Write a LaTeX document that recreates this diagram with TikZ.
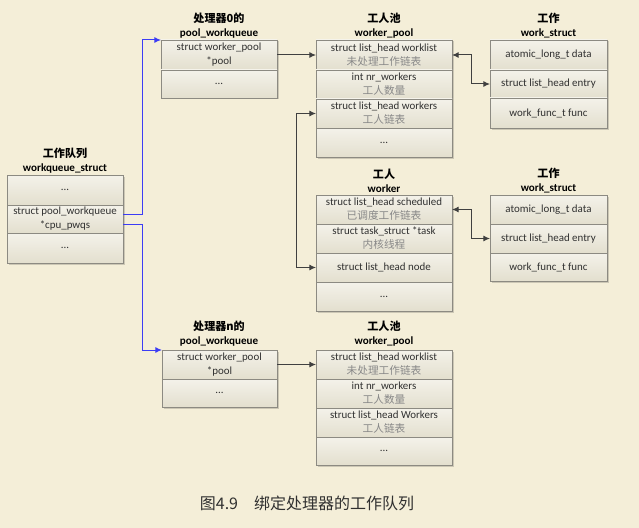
\documentclass[tikz,border=0pt]{standalone}
\usepackage{fontspec}
\setmainfont{Carlito}
\newfontfamily\cjk{Noto Sans CJK SC}
\usetikzlibrary{calc,arrows.meta}
\definecolor{bg}{HTML}{F4EED8}
\definecolor{celltop}{HTML}{F4F2EA}
\definecolor{cellbot}{HTML}{E3DFCE}
\definecolor{cellborder}{HTML}{8C8A82}
\definecolor{txt}{HTML}{303030}
\definecolor{subtxt}{HTML}{888888}
\definecolor{arr}{HTML}{404040}
\definecolor{bl}{HTML}{3C3CF5}
\newcommand\cellbox[6]{\node[cell, minimum width={(#4-#2)*0.75pt}, minimum height={(#5-#3)*0.75pt}] (#1) at ({(#2+#4)/2},{(#3+#5)/2}) {#6};}
\newcommand\shadowbox[4]{\fill[black, opacity=0.16] ({#1+1.5},{#2+1.5}) rectangle ({#3+1.5},{#4+1.5});}
\newcommand\zh[1]{{\cjk\color{subtxt}\fontsize{8}{10.5}\selectfont #1}}
\tikzset{
  cell/.style={draw=cellborder, line width=0.6pt, top color=celltop, bottom color=cellbot,
    inner sep=0pt, outer sep=0pt, align=center, text=txt, font=\fontsize{8.2}{10.5}\selectfont},
  boxtitle/.style={align=center, text=black, inner sep=0pt, font=\bfseries\fontsize{8.3}{10.5}\selectfont},
  conn/.style={draw=arr, line width=0.75pt, -{Latex[length=5pt,width=4.5pt]}},
  dconn/.style={draw=arr, line width=0.75pt, {Latex[length=5pt,width=4.5pt]}-{Latex[length=5pt,width=4.5pt]}},
  blueconn/.style={draw=bl, line width=0.75pt, -{Latex[length=5pt,width=4.5pt]}}
}
\begin{document}
\begin{tikzpicture}[x=0.75pt,y=-0.75pt]
\useasboundingbox (0,0) rectangle (639,528);
\fill[bg] (0,0) rectangle (639,528);
% shadows
\shadowbox{7}{175}{123}{263}
\shadowbox{161}{40}{277}{98}
\shadowbox{316}{40}{452}{157}
\shadowbox{490}{40}{607}{128}
\shadowbox{316}{195}{452}{311}
\shadowbox{490}{195}{607}{281}
\shadowbox{162}{350}{277}{407}
\shadowbox{316}{350}{452}{465}
% workqueue_struct
\node[boxtitle] (t1) at (65,160.5) {{\cjk 工作队列}\\workqueue\_struct};
\cellbox{wqa}{7}{175}{123}{205}{...}
\cellbox{wqb}{7}{205}{123}{233}{struct pool\_workqueue\\*cpu\_pwqs}
\cellbox{wqc}{7}{233}{123}{263}{...}
% pool_workqueue 0
\node[boxtitle] (t2) at (219,26) {{\cjk 处理器0的}\\pool\_workqueue};
\cellbox{pa}{161}{40}{277}{70}{struct worker\_pool\\*pool}
\cellbox{pb}{161}{70}{277}{98}{...}
% worker_pool
\node[boxtitle] (t3) at (384,26) {{\cjk 工人池}\\worker\_pool};
\cellbox{poola}{316}{40}{452}{70}{struct list\_head worklist\\\zh{未处理工作链表}}
\cellbox{poolb}{316}{70}{452}{99}{int nr\_workers\\\zh{工人数量}}
\cellbox{poolc}{316}{99}{452}{128}{struct list\_head workers\\\zh{工人链表}}
\cellbox{poold}{316}{128}{452}{157}{...}
% work_struct 1
\node[boxtitle] (t4) at (548.5,26) {{\cjk 工作}\\work\_struct};
\cellbox{wsa}{490}{40}{607}{70}{atomic\_long\_t data}
\cellbox{wsb}{490}{70}{607}{98}{struct list\_head entry}
\cellbox{wsc}{490}{98}{607}{128}{work\_func\_t func}
% worker
\node[boxtitle] (t5) at (384,181) {{\cjk 工人}\\worker};
\cellbox{wka}{316}{195}{452}{224}{struct list\_head scheduled\\\zh{已调度工作链表}}
\cellbox{wkb}{316}{224}{452}{253}{struct task\_struct *task\\\zh{内核线程}}
\cellbox{wkc}{316}{253}{452}{282}{struct list\_head node}
\cellbox{wkd}{316}{282}{452}{311}{...}
% work_struct 2
\node[boxtitle] (t6) at (548.5,181) {{\cjk 工作}\\work\_struct};
\cellbox{wsba}{490}{195}{607}{224}{atomic\_long\_t data}
\cellbox{wsbb}{490}{224}{607}{253}{struct list\_head entry}
\cellbox{wsbc}{490}{253}{607}{281}{work\_func\_t func}
% pool_workqueue n
\node[boxtitle] (t7) at (219,334) {{\cjk 处理器n的}\\pool\_workqueue};
\cellbox{pna}{162}{350}{277}{379}{struct worker\_pool\\*pool}
\cellbox{pnb}{162}{379}{277}{407}{...}
% worker_pool n
\node[boxtitle] (t8) at (384,334) {{\cjk 工人池}\\worker\_pool};
\cellbox{pnpa}{316}{350}{452}{379}{struct list\_head worklist\\\zh{未处理工作链表}}
\cellbox{pnpb}{316}{379}{452}{408}{int nr\_workers\\\zh{工人数量}}
\cellbox{pnpc}{316}{408}{452}{437}{struct list\_head Workers\\\zh{工人链表}}
\cellbox{pnpd}{316}{437}{452}{465}{...}
% connectors
\draw[blueconn] ([yshift=3.75pt]wqb.east) -- ++(19,0) |- (pa.north west);
\draw[blueconn] ([yshift=-3.75pt]wqb.east) -- ++(19,0) |- (pna.north west);
\draw[conn] (pa.east) -- (poola.west);
\draw[dconn] (poola.east) -- ++(19,0) |- (wsb.west);
\draw[dconn] (poolc.west) -- ++(-20,0) |- (wkc.west);
\draw[dconn] (wka.east) -- ++(19,0) |- (wsbb.west);
\draw[conn] (pna.east) -- (pnpa.west);
% caption
\node[inner sep=0pt, text=txt, font=\cjk\fontsize{12}{14}\selectfont] (cap) at (307,503) {图4.9　绑定处理器的工作队列};
\end{tikzpicture}
\end{document}
